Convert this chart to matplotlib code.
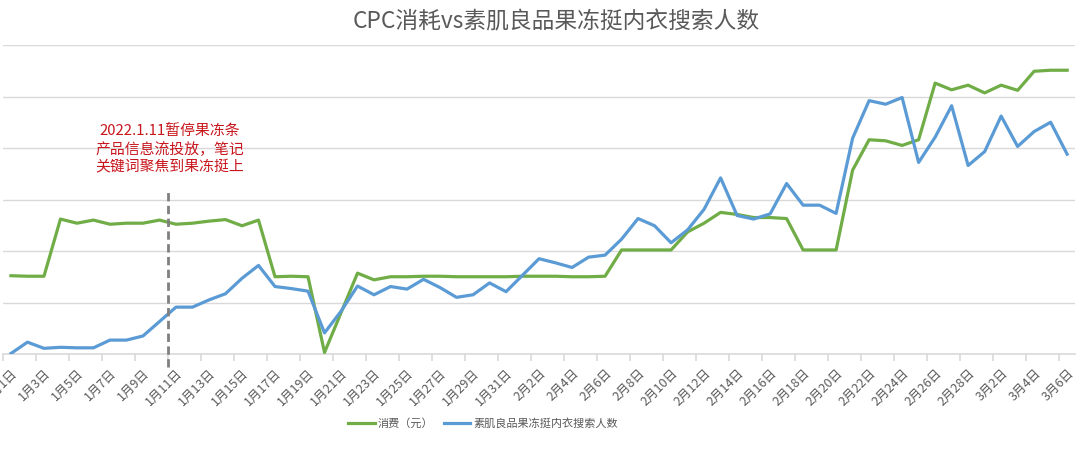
import matplotlib
matplotlib.use("Agg")
import matplotlib.pyplot as plt
import numpy as np

plt.rcParams['font.family'] = ['Noto Sans CJK SC', 'DejaVu Sans']

# ---- data (values in gridline units) ----
dates = ([f"1月{d}日" for d in range(1, 32)] +
         [f"2月{d}日" for d in range(1, 29)] +
         [f"3月{d}日" for d in range(1, 7)])

spend = [1.52, 1.51, 1.51, 2.62, 2.54, 2.60, 2.52, 2.54, 2.54, 2.60,
         2.52, 2.54, 2.58, 2.61, 2.49, 2.60, 1.50, 1.51, 1.50, 0.03,
         0.80, 1.57, 1.44, 1.50, 1.50, 1.51, 1.51, 1.50, 1.50, 1.50,
         1.50, 1.51, 1.51, 1.51, 1.50, 1.50, 1.51, 2.02, 2.02, 2.02,
         2.02, 2.37, 2.54, 2.75, 2.71, 2.65, 2.65, 2.63, 2.02, 2.02,
         2.02, 3.57, 4.16, 4.14, 4.05, 4.16, 5.26, 5.13, 5.22, 5.07,
         5.22, 5.12, 5.49, 5.51, 5.51]

searches = [0.01, 0.23, 0.11, 0.13, 0.12, 0.12, 0.27, 0.27, 0.35, 0.63,
            0.91, 0.91, 1.05, 1.17, 1.47, 1.72, 1.31, 1.27, 1.22, 0.41,
            0.83, 1.32, 1.15, 1.31, 1.26, 1.45, 1.29, 1.10, 1.15, 1.38,
            1.21, 1.53, 1.85, 1.77, 1.68, 1.88, 1.92, 2.23, 2.63, 2.49,
            2.16, 2.41, 2.81, 3.42, 2.69, 2.62, 2.72, 3.31, 2.89, 2.89,
            2.73, 4.19, 4.92, 4.85, 4.98, 3.72, 4.21, 4.82, 3.66, 3.93,
            4.62, 4.03, 4.32, 4.50, 3.88]

series_names = ["消费（元）", "素肌良品果冻挺内衣搜索人数"]
note_text = "2022.1.11暂停果冻条\n产品信息流投放，笔记\n关键词聚焦到果冻挺上"
title_text = "CPC消耗vs素肌良品果冻挺内衣搜索人数"

# ---- figure ----
fig = plt.figure(figsize=(10.8, 4.62), dpi=100)
ax = fig.add_axes([2.7 / 1080, 1 - 354 / 462, 1072.7 / 1080, 309 / 462])

x = np.arange(len(dates))
green = "#70AD47"
blue = "#5B9BD5"
grey_txt = "#595959"
grid_c = "#D9D9D9"

l1, = ax.plot(x, spend, color=green, lw=2.3, solid_joinstyle='round', zorder=3)
l2, = ax.plot(x, searches, color=blue, lw=2.3, solid_joinstyle='round', zorder=3)

ax.set_xlim(-0.5, len(dates) - 0.5)
ax.set_ylim(0, 6)

for s in ['top', 'right', 'left']:
    ax.spines[s].set_visible(False)
ax.spines['bottom'].set_color(grid_c)
ax.spines['bottom'].set_linewidth(1.2)

ax.set_yticks(np.arange(0, 7, 1))
ax.tick_params(axis='y', left=False, labelleft=False)
ax.yaxis.grid(True, color=grid_c, lw=1.0)
ax.set_axisbelow(True)

# major ticks: labels at every other category (no tick marks)
ax.set_xticks(x[::2])
ax.set_xticklabels(dates[::2], rotation=45, ha='right', va='top',
                   rotation_mode='anchor', fontsize=9, color=grey_txt)
ax.tick_params(axis='x', which='major', length=0, pad=9)
# minor ticks: marks between categories
ax.set_xticks(np.arange(-0.5, len(dates), 2), minor=True)
ax.tick_params(axis='x', which='minor', length=5, color=grid_c, width=1.2)

# dashed vertical marker (between 1月10日 and 1月11日)
ax.axvline(9.5, ymin=-0.042, ymax=0.53, color="#7F7F7F", lw=2,
           ls=(0, (3, 1.6)), clip_on=False, zorder=4)

ax.text(9.6, 3.98, note_text, color="#C8161D", fontsize=10.7,
        ha='center', va='center', linespacing=1.35)

fig.text(556 / 1080, 1 - 22 / 462, title_text, ha='center', va='center',
         fontsize=16.4, color=grey_txt)

fig.legend([l1, l2], series_names, loc='center', ncol=2,
           bbox_to_anchor=(483 / 1080, 1 - 423 / 462), frameon=False,
           fontsize=8, handlelength=2.4, handletextpad=0.3,
           columnspacing=0.9, labelcolor=grey_txt)

fig.savefig("out.png", dpi=100)
